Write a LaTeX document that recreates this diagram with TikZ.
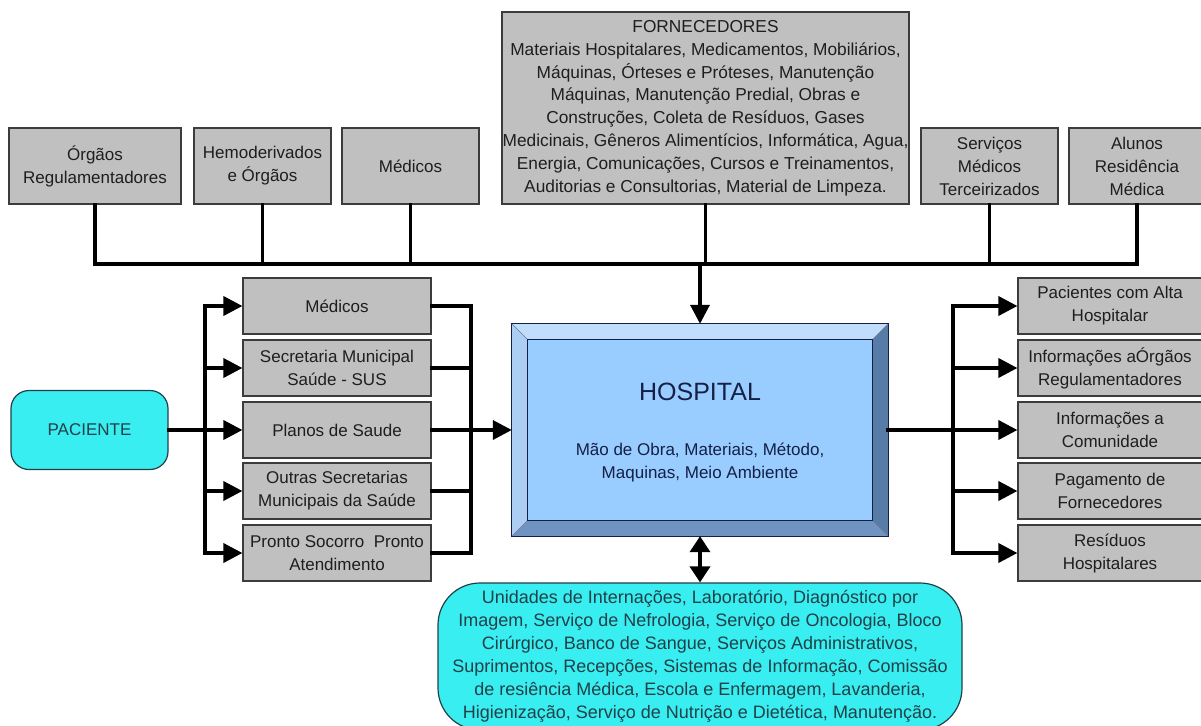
\documentclass[tikz,border=0pt]{standalone}
\usepackage{fontspec}
\setmainfont{Liberation Sans}
\usetikzlibrary{arrows.meta}
\definecolor{boxgray}{RGB}{192,192,192}
\definecolor{boxedge}{RGB}{60,60,60}
\definecolor{boxtext}{RGB}{30,30,30}
\definecolor{cyanfill}{RGB}{56,238,240}
\definecolor{cyantext}{RGB}{34,64,72}
\definecolor{hospface}{RGB}{153,204,255}
\definecolor{hosptop}{RGB}{192,222,252}
\definecolor{hospleft}{RGB}{172,206,242}
\definecolor{hospbottom}{RGB}{112,148,194}
\definecolor{hospright}{RGB}{88,124,168}
\definecolor{hosptext}{RGB}{20,32,70}

\tikzset{
  every node/.style={inner sep=0pt, font=\fontsize{17}{23}\selectfont},
  box/.style={draw=boxedge, fill=boxgray, line width=1.2pt, align=center, text=boxtext},
  topbox/.style={box, minimum width=137pt, minimum height=76pt},
  sidebox/.style={box, minimum width=188pt, minimum height=56pt},
  outbox/.style={box, minimum width=184pt, minimum height=56pt},
  cyanbox/.style={draw=cyantext, fill=cyanfill, line width=1.2pt, align=center, text=cyantext},
  link/.style={black, line width=3.6pt, line cap=rect},
  arrow/.style={link, -{Triangle[length=19pt,width=19pt]}},
  twoway/.style={link, {Triangle[length=16pt,width=20pt]}-{Triangle[length=16pt,width=20pt]}},
}

\begin{document}
\begin{tikzpicture}[x=1pt,y=-1pt]
\useasboundingbox [fill=white] (0,0) rectangle (1201,725);

\node [topbox, minimum width=172pt] (orgaos) at (95,166) {Órgãos\\Regulamentadores};
\node [topbox] (hemo) at (262.5,166) {Hemoderivados\\e Órgãos};
\node [topbox] (medicos) at (410.5,166) {Médicos};
\node [box, minimum width=407pt, minimum height=192pt, font=\fontsize{17.3}{22.8}\selectfont] (fornec) at (705.5,108)
  {FORNECEDORES\\
   Materiais Hospitalares, Medicamentos, Mobiliários,\\
   Máquinas, Órteses e Próteses, Manutenção\\
   Máquinas, Manutenção Predial, Obras e\\
   Construções, Coleta de Resíduos, Gases\\
   Medicinais, Gêneros Alimentícios, Informática, Agua,\\
   Energia, Comunicações, Cursos e Treinamentos,\\
   Auditorias e Consultorias, Material de Limpeza.};
\node [topbox] (servicos) at (989.5,166) {Serviços\\Médicos\\Terceirizados};
\node [topbox, minimum width=136pt] (alunos) at (1137,166) {Alunos\\Residência\\Médica};

\node [cyanbox, rounded corners=18pt, minimum width=157pt, minimum height=79pt] (paciente) at (89.5,430) {PACIENTE};

\node [sidebox] (entmedicos) at (337,306) {Médicos};
\node [sidebox] (entsus) at (337,368) {Secretaria Municipal\\Saúde - SUS};
\node [sidebox] (entplanos) at (337,430) {Planos de Saude};
\node [sidebox] (entoutras) at (337,491) {Outras Secretarias\\Municipais da Saúde};
\node [sidebox] (entpronto) at (337,553) {Pronto Socorro\ \ Pronto\\Atendimento};

\node [minimum width=376pt, minimum height=212pt] (hospital) at (700,430) {};
\node [minimum width=344pt, minimum height=180pt] (hospface) at (700,430) {};
\fill [hosptop] (hospital.north west) -- (hospital.north east) -- (hospface.north east) -- (hospface.north west) -- cycle;
\fill [hospleft] (hospital.north west) -- (hospface.north west) -- (hospface.south west) -- (hospital.south west) -- cycle;
\fill [hospbottom] (hospital.south west) -- (hospface.south west) -- (hospface.south east) -- (hospital.south east) -- cycle;
\fill [hospright] (hospital.north east) -- (hospital.south east) -- (hospface.south east) -- (hospface.north east) -- cycle;
\draw [hosptext!60, line width=0.6pt] (hospital.north west) -- (hospface.north west)
  (hospital.north east) -- (hospface.north east)
  (hospital.south west) -- (hospface.south west)
  (hospital.south east) -- (hospface.south east);
\draw [hosptext, line width=1.2pt, fill=hospface] (hospface.north west) rectangle (hospface.south east);
\draw [hosptext, line width=1.2pt] (hospital.north west) rectangle (hospital.south east);
\node [text=hosptext, font=\fontsize{25}{30}\selectfont] (hosptitle) at (700,392) {HOSPITAL};
\node [text=hosptext, align=center] (hospinfo) at (700,462) {Mão de Obra, Materiais, Método,\\Maquinas, Meio Ambiente};

\node [outbox] (saialta) at (1110,306) {Pacientes com Alta\\Hospitalar};
\node [outbox] (saiorgaos) at (1110,368) {Informações aÓrgãos\\Regulamentadores};
\node [outbox] (saicomunidade) at (1110,430) {Informações a\\Comunidade};
\node [outbox] (saipagamento) at (1110,491) {Pagamento de\\Fornecedores};
\node [outbox] (sairesiduos) at (1110,553) {Resíduos\\Hospitalares};

\node [cyanbox, rounded corners=42pt, minimum width=524pt, minimum height=147pt, font=\fontsize{18}{23}\selectfont] (setores) at (700,656.5)
  {Unidades de Internações, Laboratório, Diagnóstico por\\
   Imagem, Serviço de Nefrologia, Serviço de Oncologia, Bloco\\
   Cirúrgico, Banco de Sangue, Serviços Administrativos,\\
   Suprimentos, Recepções, Sistemas de Informação, Comissão\\
   de resiência Médica, Escola e Enfermagem, Lavanderia,\\
   Higienização, Serviço de Nutrição e Dietética, Manutenção.};

\coordinate (topbus) at (0,264);
\draw [link] (orgaos.south) |- (alunos.south |- topbus) -- (alunos.south);
\foreach \n in {hemo,medicos,fornec,servicos}
  \draw [link] (\n.south) -- (\n.south |- topbus);
\draw [arrow] (hospital.north |- topbus) -- (hospital.north);

\coordinate (leftbus) at (205,430);
\draw [link] (paciente.east) -- (leftbus);
\draw [link] (leftbus |- entmedicos.west) -- (leftbus |- entpronto.west);
\foreach \n in {entmedicos,entsus,entplanos,entoutras,entpronto}
  \draw [arrow] (leftbus |- \n.west) -- (\n.west);

\coordinate (midbus) at (471,430);
\foreach \n in {entmedicos,entsus,entplanos,entoutras,entpronto}
  \draw [link] (\n.east) -- (\n.east -| midbus);
\draw [link] (midbus |- entmedicos.east) -- (midbus |- entpronto.east);
\draw [arrow] (midbus) -- (hospital.west);

\coordinate (rightbus) at (953,430);
\draw [link] (hospital.east) -- (rightbus);
\draw [link] (rightbus |- saialta.west) -- (rightbus |- sairesiduos.west);
\foreach \n in {saialta,saiorgaos,saicomunidade,saipagamento,sairesiduos}
  \draw [arrow] (rightbus |- \n.west) -- (\n.west);

\draw [twoway] (hospital.south) -- (setores.north);
\end{tikzpicture}
\end{document}
